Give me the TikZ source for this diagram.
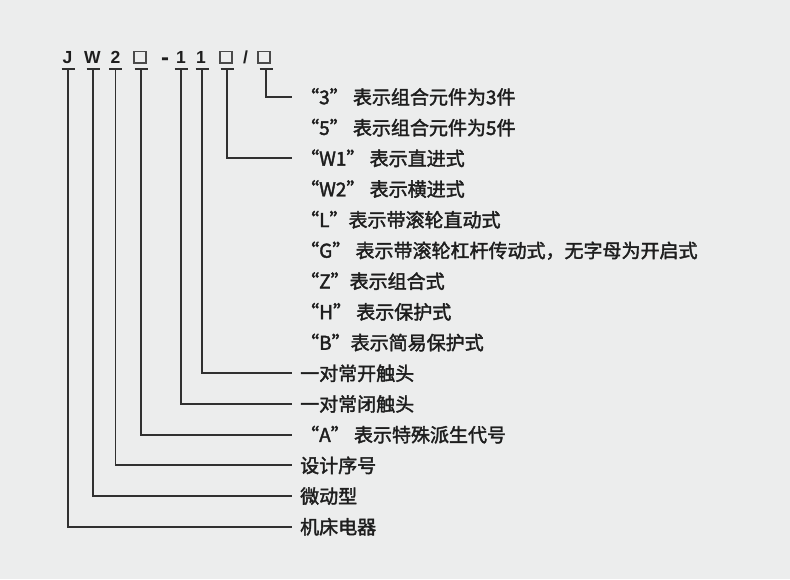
\documentclass[tikz,border=0pt]{standalone}
\usepackage{fontspec}
\setmainfont{Liberation Sans}
\newfontfamily\cjk[FakeBold=2]{Noto Sans CJK SC}
\definecolor{bg}{HTML}{ECEDED}
\definecolor{ink}{HTML}{1E1E1E}
\definecolor{wire}{HTML}{303030}
\definecolor{boxc}{HTML}{4A4A4A}
\tikzset{
  hch/.style={font=\bfseries\fontsize{17.5}{17.5}\selectfont, text=ink, inner sep=0pt, anchor=base},
  hbox/.style={draw=boxc, line width=1.6pt, minimum width=11.5pt, minimum height=11.5pt, inner sep=0pt},
  lbl/.style={font=\cjk\fontsize{19}{19}\selectfont, text=ink, anchor=west, inner xsep=8pt, inner ysep=0pt, text height=14.4pt, text depth=0pt},
  conn/.style={draw=wire, line width=1.9pt},
}
\begin{document}
\begin{tikzpicture}[x=1pt,y=-1pt]
\fill[bg] (0,0) rectangle (790,579);
\useasboundingbox (0,0) rectangle (790,579);
% header
\node[hch] (hJ) at (67.5,63.5) {J};
\node[hch] (hW) at (92.5,63.5) {W};
\node[hch] (h2) at (115.5,63.5) {2};
\node[hbox] (hA) at (140,57.2) {};
\node[hch, font=\bfseries\fontsize{24}{24}\selectfont] (hD) at (165,65.3) {-};
\node[hch] (h1a) at (181,63.5) {1};
\node[hch] (h1b) at (201,63.5) {1};
\node[hbox] (hB) at (226,57.2) {};
\node[hch] (hS) at (245.5,63.5) {/};
\node[hbox] (hC) at (264,57.2) {};
% labels
\node[lbl] (t1) at (292,97) {“3” 表示组合元件为3件};
\node[lbl] (t2) at (292,127.7) {“5” 表示组合元件为5件};
\node[lbl] (t3) at (292,158.4) {“W1” 表示直进式};
\node[lbl] (t4) at (292,189.1) {“W2” 表示横进式};
\node[lbl] (t5) at (292,219.8) {“L”表示带滚轮直动式};
\node[lbl] (t6) at (292,250.5) {“G” 表示带滚轮杠杆传动式，无字母为开启式};
\node[lbl] (t7) at (292,281.2) {“Z”表示组合式};
\node[lbl] (t8) at (292,311.9) {“H” 表示保护式};
\node[lbl] (t9) at (292,342.6) {“B”表示简易保护式};
\node[lbl] (t10) at (292,373.3) {一对常开触头};
\node[lbl] (t11) at (292,404) {一对常闭触头};
\node[lbl] (t12) at (292,434.7) {“A” 表示特殊派生代号};
\node[lbl] (t13) at (292,465.4) {设计序号};
\node[lbl] (t14) at (292,496.1) {微动型};
\node[lbl] (t15) at (292,526.8) {机床电器};
% bar coordinates
\coordinate (bJ) at (68,69);
\coordinate (bW) at (93,69);
\coordinate (b2) at (115.5,69);
\coordinate (bA) at (141,69);
\coordinate (b1a) at (181,69);
\coordinate (b1b) at (202,69);
\coordinate (bB) at (227,69);
\coordinate (bC) at (266,69);
\foreach \b in {bJ,bW,b2,bA,b1a,b1b,bB,bC}{
  \draw[conn] (\b) ++(-6.5,0) -- ++(13,0);
}
% connectors
\draw[conn] (bC) |- (t1.west);
\draw[conn] (bB) |- (t3.west);
\draw[conn] (b1b) |- (t10.west);
\draw[conn] (b1a) |- (t11.west);
\draw[conn] (bA) |- (t12.west);
\draw[conn] (b2) |- (t13.west);
\draw[conn] (bW) |- (t14.west);
\draw[conn] (bJ) |- (t15.west);
\end{tikzpicture}
\end{document}
